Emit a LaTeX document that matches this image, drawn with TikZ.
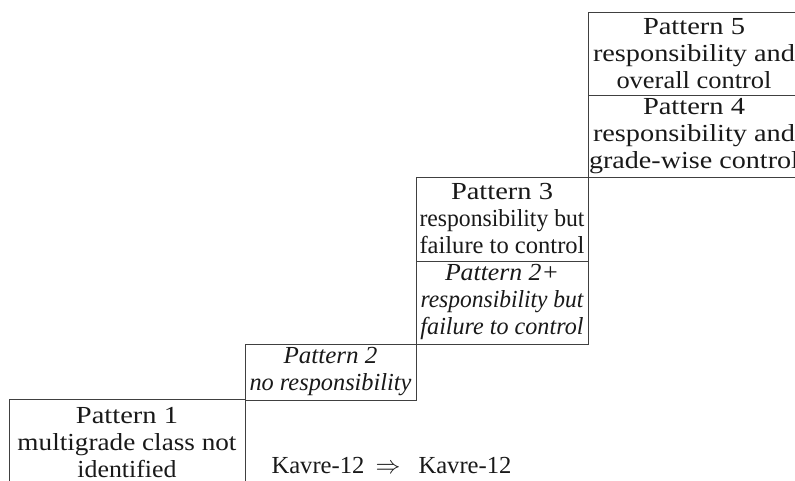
\documentclass[tikz,border=0pt]{standalone}
\usepackage{fontspec}
\setmainfont{Liberation Serif}
\usepackage{graphicx}
\newsavebox\fitbx
\newcommand\fw[2]{\sbox\fitbx{#2}\resizebox{#1pt}{\ht\fitbx}{\usebox\fitbx}}
\begin{document}
\begin{tikzpicture}[x=1pt,y=1pt,
  cell/.style={draw=black!75, line width=0.9pt, inner sep=0pt, align=center,
    text=black!90, font=\fontsize{24.5}{27}\selectfont},
  lbl/.style={inner sep=0pt, anchor=base, text=black!90, font=\fontsize{24.5}{27}\selectfont}]
\useasboundingbox (0,0) rectangle (795,481);
% Pattern 1
\node[cell, minimum width=236, minimum height=87] (p1) at (127,38.5)
  {\fw{102}{Pattern 1}\\ \fw{219}{multigrade class not}\\ \fw{99}{identified}};
% Pattern 2
\node[cell, minimum width=171, minimum height=56, font=\fontsize{24.5}{27}\selectfont\itshape] (p2) at (330.5,109)
  {\fw{94}{Pattern 2}\\ \fw{162}{no responsibility}};
% Pattern 2+
\node[cell, minimum width=172, minimum height=83, font=\fontsize{24.5}{27}\selectfont\itshape] (p2p) at (502,178.5)
  {\fw{114}{Pattern 2+}\\ \fw{163}{responsibility but}\\ \fw{163}{failure to control}};
% Pattern 3
\node[cell, minimum width=172, minimum height=84] (p3) at (502,262)
  {\fw{102}{Pattern 3}\\ \fw{165}{responsibility but}\\ \fw{165}{failure to control}};
% Pattern 4
\node[cell, minimum width=212, minimum height=82] (p4) at (694,345)
  {\fw{102}{Pattern 4}\\ \fw{202}{responsibility and}\\ \fw{210}{grade-wise control}};
% Pattern 5
\node[cell, minimum width=212, minimum height=83] (p5) at (694,427.5)
  {\fw{102}{Pattern 5}\\ \fw{202}{responsibility and}\\ \fw{155}{overall control}};
% bottom labels
\node[lbl] (k1) at (318,7) {\fw{93}{Kavre-12}};
\node[lbl] (arr) at (388,7) {$\Rightarrow$};
\node[lbl] (k2) at (465,7) {\fw{93}{Kavre-12}};
\end{tikzpicture}
\end{document}
